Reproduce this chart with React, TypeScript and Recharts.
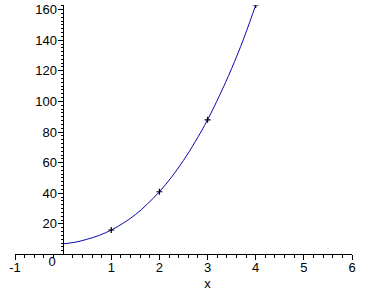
import React from 'react';
import { ComposedChart, Line, Scatter, XAxis, YAxis, Label } from 'recharts';

// curve values
const curveX = [0, 0.25, 0.5, 0.75, 1, 1.25, 1.5, 1.75, 2, 2.25, 2.5, 2.75, 3, 3.25, 3.5, 3.75, 4];
const curveY = [7, 8, 10, 12.5, 16, 20.5, 26, 33, 41, 50.5, 61.5, 74, 88, 104, 121.5, 141, 163];

// marked points (crosses)
const pointX = [1, 2, 3, 4];
const pointY = [16, 41, 88, 163];

// axes
const xDomain = [-1, 6];
const yDomain = [0, 163];
const xMajorTicks = [-1, 0, 1, 2, 3, 4, 5, 6];
const yMajorTicks = [20, 40, 60, 80, 100, 120, 140, 160];
const xMinorStep = 0.2;
const yMinorStep = 2.5;

const range = (a: number, b: number, step: number) => {
  const out: number[] = [];
  const n = Math.round((b - a) / step);
  for (let i = 0; i <= n; i++) out.push(Math.round((a + i * step) * 1000) / 1000);
  return out;
};
const xTicks = range(xDomain[0], xDomain[1], xMinorStep);
const yTicks = range(0, 162.5, yMinorStep);

const curveData = curveX.map((x, i) => ({ x, y: curveY[i] }));
const pointData = pointX.map((x, i) => ({ x, y: pointY[i] }));

const FONT = '"Liberation Sans", Arial, sans-serif';
const CURVE = '#0a0aa8';
const TK = '#000';

const XTick = (props: any) => {
  const { x, y, payload } = props;
  const v = payload.value as number;
  const px = Math.floor(x) + 0.5;
  const major = xMajorTicks.some((t) => Math.abs(t - v) < 1e-6);
  if (!major) {
    return <line x1={px} y1={y} x2={px} y2={y + 3} stroke={TK} strokeWidth={1} shapeRendering="crispEdges" />;
  }
  if (Math.abs(v) < 1e-6) {
    return (
      <text x={x - 11} y={y + 11} textAnchor="middle" fontFamily={FONT} fontSize={13} fill="#000">
        {String(v)}
      </text>
    );
  }
  return (
    <g>
      <line x1={px} y1={y} x2={px} y2={y + 5} stroke={TK} strokeWidth={1} shapeRendering="crispEdges" />
      <text x={x} y={y + 17} textAnchor="middle" fontFamily={FONT} fontSize={13} fill="#000">
        {String(v)}
      </text>
    </g>
  );
};

const YTick = (props: any) => {
  const { x, y, payload } = props;
  const v = payload.value as number;
  const py = Math.floor(y) + 0.5;
  const major = yMajorTicks.some((t) => Math.abs(t - v) < 1e-6);
  if (v === 0) return <g />;
  if (!major) {
    return <line x1={x} y1={py} x2={x - 3} y2={py} stroke={TK} strokeWidth={1} shapeRendering="crispEdges" />;
  }
  return (
    <g>
      <line x1={x} y1={py} x2={x - 5.5} y2={py} stroke={TK} strokeWidth={1} shapeRendering="crispEdges" />
      <text x={x - 6.5} y={y + 4.5} textAnchor="end" fontFamily={FONT} fontSize={13} fill="#000">
        {String(v)}
      </text>
    </g>
  );
};

const Cross = (props: any) => {
  const { cx, cy } = props;
  return (
    <g>
      <line x1={cx - 3} y1={cy} x2={cx + 3} y2={cy} stroke="#000" strokeWidth={1.2} />
      <line x1={cx} y1={cy - 3} x2={cx} y2={cy + 3} stroke="#000" strokeWidth={1.2} />
    </g>
  );
};

export default function App() {
  return (
    <div style={{ position: 'absolute', left: 0, top: 0, width: 367, height: 292, background: '#fff' }}>
      <div style={{ position: 'absolute', left: 0, top: 0 }}>
        <ComposedChart width={367} height={292} margin={{ top: 5, right: 15, bottom: 0, left: 15 }}>
          <XAxis
            dataKey="x"
            type="number"
            domain={xDomain}
            ticks={xTicks}
            interval={0}
            tickSize={0}
            tickMargin={0}
            tick={<XTick />}
            height={37.5}
            axisLine={{ stroke: '#000', strokeWidth: 1, shapeRendering: 'crispEdges' }}
            allowDataOverflow
          >
            <Label value="x" position="insideBottom" offset={4} dx={24} fontFamily={FONT} fontSize={13} fill="#000" />
          </XAxis>
          <YAxis type="number" dataKey="y" domain={yDomain} hide allowDataOverflow />
          <Line
            data={curveData}
            dataKey="y"
            type="monotone"
            stroke={CURVE}
            strokeWidth={1}
            dot={false}
            activeDot={false}
            isAnimationActive={false}
          />
          <Scatter data={pointData} dataKey="y" shape={<Cross />} isAnimationActive={false} />
        </ComposedChart>
      </div>
      <div style={{ position: 'absolute', left: 0, top: 0 }}>
        <ComposedChart width={367} height={292} margin={{ top: 5, right: 15, bottom: 37.5, left: 0 }}>
          <XAxis dataKey="x" type="number" domain={[0, 6]} hide allowDataOverflow />
          <YAxis
            type="number"
            dataKey="y"
            domain={yDomain}
            ticks={yTicks}
            interval={0}
            tickSize={0}
            tickMargin={0}
            tick={<YTick />}
            width={63.5}
            axisLine={{ stroke: '#000', strokeWidth: 1, shapeRendering: 'crispEdges' }}
            allowDataOverflow
          />
        </ComposedChart>
      </div>
    </div>
  );
}
